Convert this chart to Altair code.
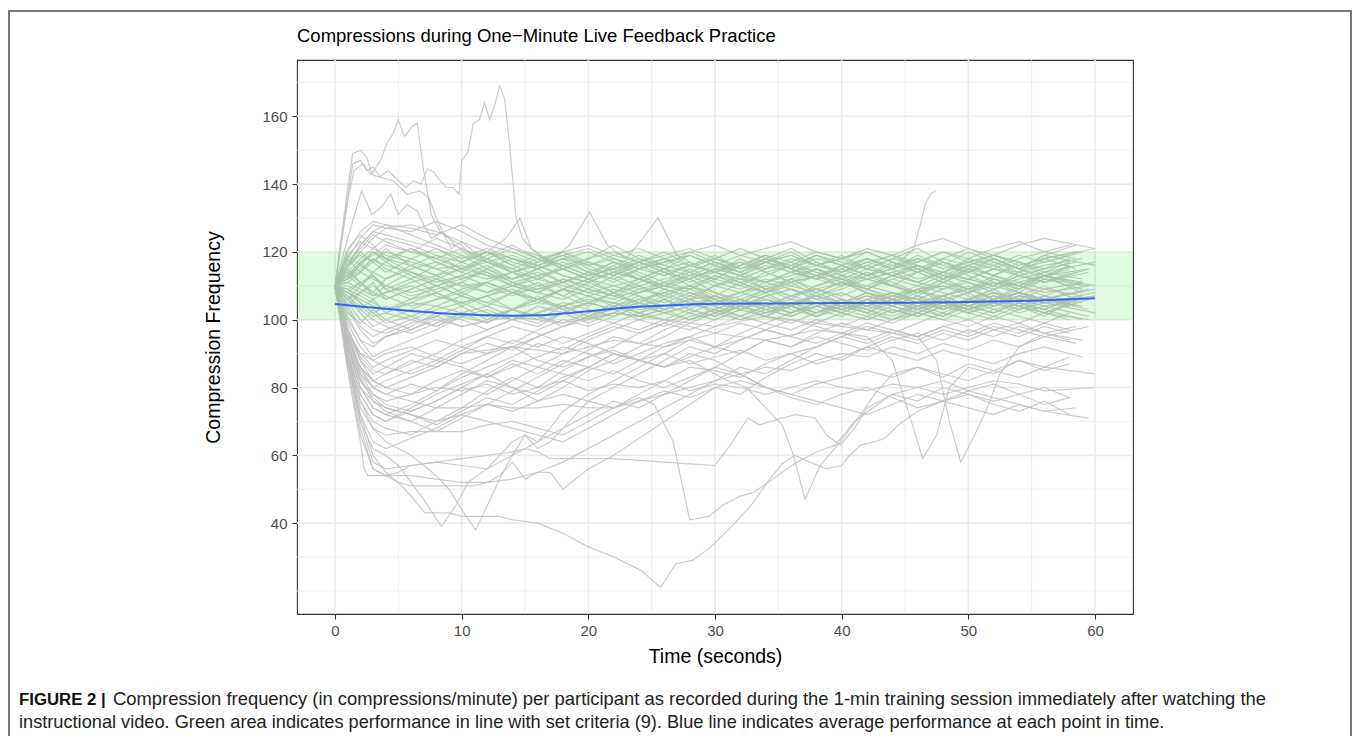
import altair as alt
import pandas as pd

FONT = "Liberation Sans"

# ---------------- data ----------------
T_GRID = [0, 1, 2, 3, 4, 6, 8, 10, 12, 14, 16, 18, 20, 22, 24, 26, 28, 30, 32, 34,
          36, 38, 40, 42, 44, 46, 48, 50, 52, 54, 56, 58]

GRID_SERIES = [
    [110,112,115,118,116,114,112,110,111,108,109,112,110,107,108,110,109,106,108,110,107,109,111,108,106,109,110,108,111,109,112,110],
    [110,108,106,104,103,105,104,102,101,103,105,104,106,105,103,104,106,107,105,104,106,105,103,105,107,106,104,106,105,107,106,108],
    [110,114,118,121,119,117,115,116,113,112,114,111,113,115,112,110,113,114,112,111,113,115,113,112,114,116,113,112,115,114,116,118],
    [110,106,102,98,100,103,106,108,105,103,106,109,107,104,106,108,105,103,106,104,107,109,106,104,107,105,103,106,108,106,105,107],
    [110,116,122,126,128,125,122,119,117,115,118,116,113,115,117,114,112,115,113,116,114,112,114,116,113,111,114,112,115,113,111,114],
    [110,109,111,113,110,108,110,112,114,111,109,111,108,110,112,109,107,110,108,111,109,107,109,112,110,108,107,109,111,110,108,110],
    [110,104,98,95,97,100,98,101,103,100,102,105,103,101,104,106,103,101,104,102,104,107,105,103,101,104,106,103,105,107,105,104],
    [110,113,117,119,122,120,118,121,117,114,116,119,115,113,116,118,116,114,117,115,118,116,114,117,119,116,114,118,116,119,117,120],
    [110,111,109,107,108,110,107,105,107,109,106,104,107,109,107,105,108,106,104,107,109,106,108,105,107,109,106,108,110,108,106,109],
    [110,115,120,124,127,128,126,123,120,118,115,117,114,112,115,113,116,114,111,113,116,114,112,110,113,115,112,114,116,113,115,117],
    [110,107,104,101,102,100,103,105,102,100,102,104,101,103,105,102,104,106,103,105,102,104,106,104,102,105,107,104,106,103,105,107],
    [110,112,114,112,110,107,109,111,108,110,112,110,108,106,109,111,113,110,112,109,111,113,110,112,114,111,109,112,110,113,111,114],
    [110,118,124,128,127,126,129,126,122,120,117,119,116,118,115,117,119,116,114,117,115,118,116,113,115,117,120,117,115,118,120,122],
    [110,105,100,97,96,99,101,98,100,103,101,99,102,104,101,103,100,102,105,103,101,104,102,100,103,101,104,102,100,103,105,102],
    [110,110,108,106,108,111,113,110,108,111,113,115,112,110,108,111,109,112,110,108,111,113,111,109,112,110,113,111,109,112,114,112],
    [110,117,121,125,123,120,124,121,118,121,119,116,118,120,117,119,121,118,116,119,117,120,118,121,119,117,120,118,121,123,120,118],
    [110,106,103,100,98,96,99,102,104,101,99,102,105,103,100,102,104,107,104,102,105,103,101,104,106,103,105,102,104,106,104,101],
    [110,113,116,114,112,115,117,114,112,114,116,113,111,114,112,110,112,115,113,111,114,112,110,113,115,112,114,116,113,111,113,115],
    [110,109,107,105,103,106,108,105,107,110,108,106,109,107,105,108,110,108,106,109,107,110,112,109,107,110,108,106,109,111,109,107],
    [110,120,126,129,128,127,125,128,124,121,118,120,122,119,121,118,120,122,119,121,123,120,118,121,119,122,124,121,119,122,124,121],
    [110,92,80,74,72,75,79,84,88,92,95,98,100,102,101,103,105,104,106,103,105,107,104,106,108,105,107,104,106,108,106,105],
    [110,95,84,78,75,73,76,80,78,82,86,90,94,97,100,98,101,103,100,102,104,101,103,105,102,104,106,103,105,102,104,106],
    [110,90,76,70,68,66,70,74,79,83,80,85,89,92,96,99,97,100,103,101,104,102,105,103,106,104,102,105,107,104,106,103],
    [110,98,88,82,80,83,86,90,93,91,95,98,101,99,102,104,102,105,103,106,104,102,105,107,105,103,106,104,107,105,103,106],
    [110,93,82,77,74,72,69,73,77,75,79,83,86,90,88,92,95,98,101,99,102,105,103,106,104,102,105,103,106,108,105,107],
    [110,96,86,80,78,81,79,83,86,89,93,91,95,98,96,99,102,100,103,101,99,102,104,102,100,103,101,104,102,105,103,100],
    [110,91,78,72,70,74,78,81,84,80,76,80,85,88,92,95,99,102,100,103,101,104,102,105,103,101,104,106,103,105,107,104],
    [110,97,89,85,84,87,90,94,97,100,98,102,105,103,106,104,107,105,108,106,104,107,105,108,106,104,107,109,106,108,106,109],
    [110,94,83,76,73,70,67,71,75,79,83,87,91,95,93,97,100,103,101,104,102,105,103,101,104,102,105,103,106,104,102,105],
    [110,99,92,88,86,84,87,91,95,93,97,100,98,101,104,102,100,103,106,104,102,105,103,106,104,107,105,103,106,104,107,105],
    [110,92,82,78,76,78,80,79,81,78,80,82,79,81,80,82,79,81,80,78,80,82,80,79,81,80,78,80,82,81,79,80],
    [110,95,85,80,78,76,74,74,75,74,74,75,74,74,76,78,80,82,84,86,85,88,90,89,92,90,93,91,94,92,95,93],
    [110,96,90,88,90,92,89,87,90,92,88,86,89,91,88,90,87,89,91,88,90,87,89,92,90,88,91,89,87,90,92,89],
    [110,93,84,80,82,85,88,86,83,86,89,92,90,87,90,93,95,92,94,97,95,93,96,94,97,95,98,96,99,97,95,98],
    [110,90,74,68,66,67,67,67,69,70,68,66,70,74,78,82,86,85,83,87,90,92,95,93,96,94,97,95,98,96,99,97],
    [110,88,72,64,62,65,68,72,70,68,66,64,68,72,76,79,77,80,82,80,78,81,83,85,83,86,84,82,85,83,86,84],
    [110,94,86,82,80,78,82,85,83,87,84,88,86,90,88,86,89,92,90,94,92,95,93,91,94,96,94,97,95,98,96,94],
    [110,97,90,86,88,91,94,92,95,98,96,93,96,99,97,100,98,96,99,97,100,98,96,99,97,95,98,100,97,99,96,98],
    [110,90,70,58,56,57,58,57,56,60,64,68,72,76,74,78,82,86,90,94,92,96,99,97,100,102,100,103,101,104,102,100],
    [110,88,68,56,54,54,53,52,52,53,55,58,62,66,70,74,78,82,86,84,88,92,95,98,96,99,102,100,103,101,99,102],
    [110,114,111,108,106,109,112,115,113,110,108,111,114,112,109,107,110,113,111,108,110,113,115,112,110,108,111,114,112,110,113,111],
    [110,103,97,93,95,98,102,100,97,100,104,102,99,102,105,103,106,104,101,104,107,105,102,105,108,106,103,106,104,107,105,108],
    [110,119,123,121,124,122,119,117,120,116,113,115,112,114,117,115,113,116,119,117,114,116,118,115,113,116,114,117,119,116,118,120],
    [110,108,105,102,99,101,104,107,105,108,106,103,105,108,110,107,105,102,104,107,109,106,104,107,105,108,110,107,105,108,106,104],
    [110,112,116,120,118,114,111,113,110,107,110,112,109,107,110,112,114,111,109,112,110,108,111,109,112,114,111,109,112,110,113,115],
    [110,101,94,89,91,94,97,101,99,103,101,98,101,104,102,100,103,101,104,106,103,101,104,102,105,103,106,104,102,105,103,106],
    [110,116,119,117,120,118,115,112,115,118,116,113,111,114,117,114,112,115,117,114,116,119,116,113,116,118,115,117,119,117,114,117],
    [110,106,108,110,107,104,106,109,111,108,106,109,107,105,108,110,108,105,107,110,112,109,107,110,108,106,109,111,108,106,109,111],
    [110,90,78,72,70,73,76,80,84,88,86,84,82,85,82,80,83,86,84,80,78,76,74,72,75,78,76,74,72,75,73,74],
    [110,93,80,74,72,70,74,78,82,80,78,82,86,84,88,86,90,88,84,80,77,75,78,80,77,74,76,79,77,75,73,71],
    [110,113,110,114,117,113,110,113,116,112,115,118,114,111,115,118,114,112,116,119,115,112,116,113,117,114,111,115,118,115,112,116],
    [110,104,108,111,106,109,112,108,111,114,110,107,111,108,112,109,106,110,113,109,112,108,111,114,110,107,111,108,112,109,113,110],
    [110,118,114,117,121,116,119,115,118,114,117,120,116,113,117,120,116,119,115,118,121,117,114,118,115,119,116,120,117,114,118,121],
    [110,107,103,106,102,105,108,104,107,103,106,109,105,108,104,107,110,106,103,107,104,108,105,102,106,109,105,108,104,107,110,106],
    [110,112,117,113,109,112,108,111,115,111,108,112,109,113,110,106,109,113,110,114,111,107,110,114,111,108,112,115,111,108,112,109],
    [110,121,125,122,118,121,117,114,118,115,112,116,113,117,114,111,115,112,116,119,115,112,116,113,110,114,117,113,110,114,111,115],
    [110,109,105,102,104,101,98,102,99,103,100,104,101,105,102,106,103,107,104,101,105,102,106,103,100,104,101,105,108,104,101,105],
    [110,115,111,108,112,116,113,117,114,110,113,109,112,116,112,115,111,114,118,114,111,115,112,109,113,116,112,109,113,117,113,110],
    [110,106,110,113,109,106,110,107,104,108,111,107,104,108,105,109,112,108,105,109,106,110,113,109,106,103,107,110,106,109,113,108],
    [110,116,120,117,114,118,121,117,120,116,119,115,118,122,118,115,119,116,113,117,120,116,119,115,118,121,117,114,118,115,119,122],
    [110,102,99,103,100,97,101,104,100,103,107,103,100,104,107,103,106,102,105,108,104,101,105,108,104,107,103,106,109,105,102,106],
    [110,111,114,118,115,112,116,119,115,112,115,111,114,117,113,110,114,117,114,111,114,117,113,116,119,115,112,116,113,110,114,117],
    [110,108,111,107,110,114,110,107,111,108,105,109,112,108,111,114,110,107,111,108,112,115,111,108,105,109,112,109,106,110,107,111],
    [110,119,116,120,117,121,118,115,119,122,118,115,112,116,119,116,120,117,114,118,115,119,116,120,117,114,118,121,118,115,119,116],
    [110,105,101,98,102,105,101,104,108,104,101,105,102,106,103,100,104,107,103,106,109,105,102,106,110,106,103,107,104,100,104,107],
]
# time of each participant's final reading (one per grid series)
LAST_T = [59.5, 58, 59, 60, 58.5, 59.5, 58, 59, 60, 58.5, 59, 59.5, 58, 60, 59, 58.5,
          59.5, 58, 59, 60, 58.5, 59, 59.5, 58, 60, 59, 58.5, 59.5, 58, 59, 60, 58.5,
          59, 59.5, 58, 60, 59, 58.5, 59.5, 58, 59, 60, 58.5, 59, 59.5, 58, 60, 59,
          58.5, 59.5, 58, 59, 60, 58.5, 59, 59.5, 58, 60, 59, 58.5, 59.5, 58, 59, 60]

# individually traced participants (own time stamps)
O1_T = [0,0.9,1.4,2.0,2.5,2.9,3.6,4.1,4.6,5.0,5.5,6.1,6.5,7.0,7.6,8.3,9.0,10,11,12,14,16,18,20,22,24,26,28,30,32,34,36,38,40,42,44,46,48,50,52,54,56,58]
O1_V = [110,136,149,150,148,143,147,152,155,159,154,157,158,144,131,126,124,122,118,120,117,115,118,116,119,117,114,116,118,115,117,119,116,114,117,115,118,116,114,117,115,113,116]
O2_T = [0,0.6,1.0,1.5,2.2,2.8,3.5,4.2,5.0,5.6,6.2,6.8,7.3,7.8,8.3,8.8,9.3,9.8,10.0,10.5,10.9,11.4,11.8,12.2,12.6,13.0,13.4,13.8,14.3,14.8,15.5,16.5,18,20,22,24,26,28,30,32,34,36,38,40,42,44,46,48,50,52,54,56,58.5]
O2_V = [110,125,135,144,146,143,142,144,141,139,141,140,144.5,143.5,141,139,139,137,147,149.5,157.7,159,164,159,163,169,165,151,130,124,121,118,120,117,115,118,116,114,117,115,118,116,113,115,118,116,114,117,115,113,116,118,115]
O3_T = [0,1.0,2.1,2.9,3.6,4.4,5.0,5.7,6.5,7.0,7.6,8.5,9.5,10.5,12,14,16,18,20,22,24,26,28,30,32,34,36,38,40,42,44,46,48,50,52,54,56,58]
O3_V = [110,124,138,131,133,137,131,134,132,128,124,126,122,119,121,118,116,119,121,118,116,113,116,114,112,115,117,114,112,115,113,111,114,112,110,113,111,114]
O4_T = [0,0.7,1.4,2.0,2.5,3.0,3.6,4.6,5.7,6.7,7.4,8.0,8.6,9.2,10,11,12,14,16,18,20,22,24,26,28,30,32,34,36,38,40,42,44,46,48,50,52,54,56,58]
O4_V = [110,128,146,147,144,145,142,141,137,138,136,130,125,121,123,120,117,119,116,118,120,117,115,117,119,116,114,117,119,116,118,120,117,115,118,116,119,117,115,118]
O5_T = [0,1,2,3,4,6,8,10,12,13.5,14.6,15.5,17,18.5,20.1,21.5,23,24.3,25.5,27,28.5,30,32,34,36,38,40,42,44,46,48,50,52,54,56,58]
O5_V = [110,116,122,126,125,123,121,118,120,124,130,121,117,122,131.7,122,118,124,130,119,116,118,121,118,116,119,117,115,118,116,113,116,118,115,117,119]
O6_T = [0,1,2,3,4,6,8,10,12,14,16,18,20,22,24,26,28,30,32,34,36,38,40,42,44,45.7,46.2,46.6,47.0,47.4]
O6_V = [110,113,117,120,118,116,113,115,117,114,112,115,117,114,112,115,117,114,116,118,115,113,116,118,115,121,128,134,137,138]
O7_T = [0,1,2,3,4,5,6,7.1,8,9,10,11,12,13,14,16,18,20,22,24.2,25.7,26.9,28.2,29.6,31.2,32.9,34.2,35.3,36.3,37.5,38.8,40.0,40.5,41.5,42.6,43.4,44.5,46,48,50,52,54,56,58]
O7_V = [110,90,72,60,55,52,48,43,43,43,42,42,42,42,41,40,37,33,30,26,21,28,29,32.7,38.6,45.5,52.4,57.5,60,58,56,57,59.5,63,64,65,69,73,76,78,75,73,76,72]
O8_T = [0,1,2,2.3,2.6,3.9,5,6,8,10,12,14,15,16,17,18,20,22,24,26,28,30,31.2,32.6,33.5,35.3,36.4,37.9,38.8,39.9,41,42,44,46,48,50,52,54,56,58]
O8_V = [110,85,64,56,54,54,55,57,58,59,60,61,62,61,59,59,59,59,58.5,58,57.5,57,63,71,69,71,72,71,66,63,68,74,78,80,82,79,81,78,80,77]
O9_T = [0,1,2,3,4,6,8,10,12,14,16,18,20,22,24,26,28,30,31,32.5,34,35.3,36.2,37.1,38.3,39.9,41.5,42.6,44,46,48,50,52,54,56,58]
O9_V = [110,96,88,84,86,90,88,92,90,94,92,95,93,90,88,86,88,84,82,80,74,69,60,47,57,64,72,78,84,86,83,87,85,88,86,89]
O10_T = [0,1,2,3,4,6,8,10,12,14,16,18,20,22,24,25.2,26.7,28.0,29.5,30.7,32,33,34.2,35.3,36.5,38,39.5,41,42.5,44,46,48,50,52,54,56,58]
O10_V = [110,92,80,76,74,72,70,72,75,73,76,78,76,74,77,75,64,41,42,45.5,48,49,52,55,58,61,63,70,74,78,76,80,78,76,78,75,77]
O11_T = [0,1,2,3,4,5,6,7,8.4,9.5,10.5,12,13,14,15,16,17,18,19,20,22,24,26,28,30,32,34,36,38,40,42,44,46,48,50,52,54,56,58]
O11_V = [110,88,70,62,60,57,52,47,39,45,52,56,60,64,66,62,64,68,72,76,80,84,88,92,90,94,97,95,99,102,100,103,101,104,102,105,103,106,104]
O12_T = [0,1,2,3,4,5,6,7,8,9,10,11.1,12,13,14,15,16,17,18,20,22,24,26,28,30,32,34,36,38,40,42,44,46,48,50,52,54,56,58]
O12_V = [110,90,76,68,64,62,60,57,54,50,44,38,45,53,60,66,64,68,73,78,82,86,90,94,92,96,99,97,100,98,101,99,102,100,98,101,99,102,100]
O13_T = [0,1,2,3,4,5,6,8,10,11,12,13,14,15,16,17,18,19,20,22,24,26,28,30,32,34,36,38,40,42,44,46,48,50,52,54,56,58]
O13_V = [110,86,66,56,54,52,51,51,51,51,52,54,58,53,55,55,50,53,56,60,65,70,75,80,78,83,87,90,88,92,95,93,96,94,97,95,98,96]
O14_T = [0,1,2,3,4,6,8,10,14,18,22,26,30,34,38,42,44,45.5,46.4,47.5,48.5,50,52,54,56,58]
O14_V = [110,95,86,82,84,88,86,90,92,90,94,92,96,94,97,95,88,70,59,66,80,86,84,88,85,87]
O15_T = [0,1,2,3,4,6,8,10,14,18,22,26,30,34,38,42,46,47.5,48.5,49.4,50.5,51.5,52.5,54,56,58]
O15_V = [110,100,94,92,95,97,100,98,101,99,102,100,98,101,99,97,95,88,70,58,66,74,84,92,96,94]

TRACED = [(O1_T, O1_V), (O2_T, O2_V), (O3_T, O3_V), (O4_T, O4_V), (O5_T, O5_V),
          (O6_T, O6_V), (O7_T, O7_V), (O8_T, O8_V), (O9_T, O9_V), (O10_T, O10_V),
          (O11_T, O11_V), (O12_T, O12_V), (O13_T, O13_V), (O14_T, O14_V), (O15_T, O15_V)]

# average (smoothed) performance
SMOOTH_T = [0, 2, 4, 6, 8, 10, 12, 14, 16, 18, 20, 22, 24, 26, 28, 30, 35, 40, 45, 50, 55, 60]
SMOOTH_V = [104.6, 103.9, 103.2, 102.6, 102.0, 101.6, 101.3, 101.2, 101.3, 101.8, 102.5,
            103.2, 103.8, 104.2, 104.5, 104.7, 104.8, 104.9, 105.0, 105.2, 105.6, 106.3]

BAND_LOW, BAND_HIGH = 100, 120
X_MAJOR = [0, 10, 20, 30, 40, 50, 60]
X_MINOR = [5, 15, 25, 35, 45, 55]
Y_MAJOR = [40, 60, 80, 100, 120, 140, 160]
Y_MINOR = [20, 30, 50, 70, 90, 110, 130, 150, 170]

TITLE = "Compressions during One\u2212Minute Live Feedback Practice"
X_TITLE = "Time (seconds)"
Y_TITLE = "Compression Frequency"
CAPTION_BOLD = "FIGURE 2 |"
CAPTION_1 = ("Compression frequency (in compressions/minute) per participant as recorded "
             "during the 1-min training session immediately after watching the")
CAPTION_2 = ("instructional video. Green area indicates performance in line with set criteria (9). "
             "Blue line indicates average performance at each point in time.")

# ---------------- tables ----------------
rows = []
pid = 0
for series, last in zip(GRID_SERIES, LAST_T):
    pid += 1
    times = T_GRID[:-1] + [last]
    for t, v in zip(times, series):
        rows.append({"id": pid, "t": t, "v": v})
for ts, vs in TRACED:
    pid += 1
    for t, v in zip(ts, vs):
        rows.append({"id": pid, "t": t, "v": v})
lines_df = pd.DataFrame(rows)
smooth_df = pd.DataFrame({"t": SMOOTH_T, "v": SMOOTH_V})

W, H = 836, 554
XS = alt.Scale(domain=[-3, 63], nice=False, zero=False)
YS = alt.Scale(domain=[13.2, 176.6], nice=False, zero=False)

X_AXIS = alt.Axis(values=X_MAJOR, grid=False, domain=False, tickColor="#333333",
                  tickWidth=1.1, tickSize=5, labelFont=FONT, labelFontSize=15,
                  labelColor="#4d4d4d", labelPadding=4, title=X_TITLE,
                  titleFont=FONT, titleFontSize=19.5, titleFontWeight="normal",
                  titleColor="#000000", titlePadding=9)
Y_AXIS = alt.Axis(values=Y_MAJOR, grid=False, domain=False, tickColor="#333333",
                  tickWidth=1.1, tickSize=5, labelFont=FONT, labelFontSize=15,
                  labelColor="#4d4d4d", labelPadding=5, title=Y_TITLE,
                  titleFont=FONT, titleFontSize=19.5, titleFontWeight="normal",
                  titleColor="#000000", titlePadding=38)

def xenc(field="t"):
    return alt.X(f"{field}:Q", scale=XS, axis=X_AXIS)

def yenc(field="v"):
    return alt.Y(f"{field}:Q", scale=YS, axis=Y_AXIS)

grid_x_major = alt.Chart(pd.DataFrame({"t": X_MAJOR})).mark_rule(
    color="#ebebeb", strokeWidth=1.6).encode(x=xenc())
grid_x_minor = alt.Chart(pd.DataFrame({"t": X_MINOR})).mark_rule(
    color="#ebebeb", strokeWidth=0.8).encode(x=xenc())
grid_y_major = alt.Chart(pd.DataFrame({"v": Y_MAJOR})).mark_rule(
    color="#ebebeb", strokeWidth=1.6).encode(y=yenc())
grid_y_minor = alt.Chart(pd.DataFrame({"v": Y_MINOR})).mark_rule(
    color="#ebebeb", strokeWidth=0.8).encode(y=yenc())

lines = alt.Chart(lines_df).mark_line(
    color="#bebebe", strokeWidth=1.2, opacity=0.8).encode(
    x=xenc(), y=yenc(), detail="id:N", order="t:Q")

band = alt.Chart(pd.DataFrame({"lo": [BAND_LOW], "hi": [BAND_HIGH]})).mark_rect(
    color="#33dd33", opacity=0.14).encode(
    x=alt.value(0), x2=alt.value(W),
    y=alt.Y("lo:Q", scale=YS, axis=Y_AXIS), y2="hi:Q")

smooth = alt.Chart(smooth_df).mark_line(
    color="#3366FF", strokeWidth=2, interpolate="monotone").encode(
    x=xenc(), y=yenc())

one = pd.DataFrame({"k": [0]})
frame = alt.Chart(one).mark_rect(
    fill=None, stroke="#777777", strokeWidth=2).encode(
    x=alt.value(-288), x2=alt.value(1054), y=alt.value(-49), y2=alt.value(720))

title = alt.Chart(one).mark_text(
    text=TITLE, font=FONT, fontSize=18.5, color="#000000",
    align="left", baseline="alphabetic").encode(x=alt.value(0), y=alt.value(-18))

cap_bold = alt.Chart(one).mark_text(
    text=CAPTION_BOLD, font=FONT, fontSize=16.8, fontWeight="bold", color="#111111",
    align="left", baseline="alphabetic").encode(x=alt.value(-278), y=alt.value(645))
cap_1 = alt.Chart(one).mark_text(
    text=CAPTION_1, font=FONT, fontSize=18.4, color="#222222",
    align="left", baseline="alphabetic").encode(x=alt.value(-184), y=alt.value(645))
cap_2 = alt.Chart(one).mark_text(
    text=CAPTION_2, font=FONT, fontSize=18.2, color="#222222",
    align="left", baseline="alphabetic").encode(x=alt.value(-278), y=alt.value(668))

chart = alt.layer(
    grid_x_minor, grid_y_minor, grid_x_major, grid_y_major,
    lines, band, smooth, frame, title, cap_bold, cap_1, cap_2
).properties(
    width=W, height=H,
    padding={"left": 289, "top": 52, "right": 219, "bottom": 122},
    autosize=alt.AutoSizeParams(type="none"),
    background="white",
).configure_view(stroke="#333333", strokeWidth=1.1)

chart.save("out.html", embed_options={"renderer": "svg", "actions": False})
